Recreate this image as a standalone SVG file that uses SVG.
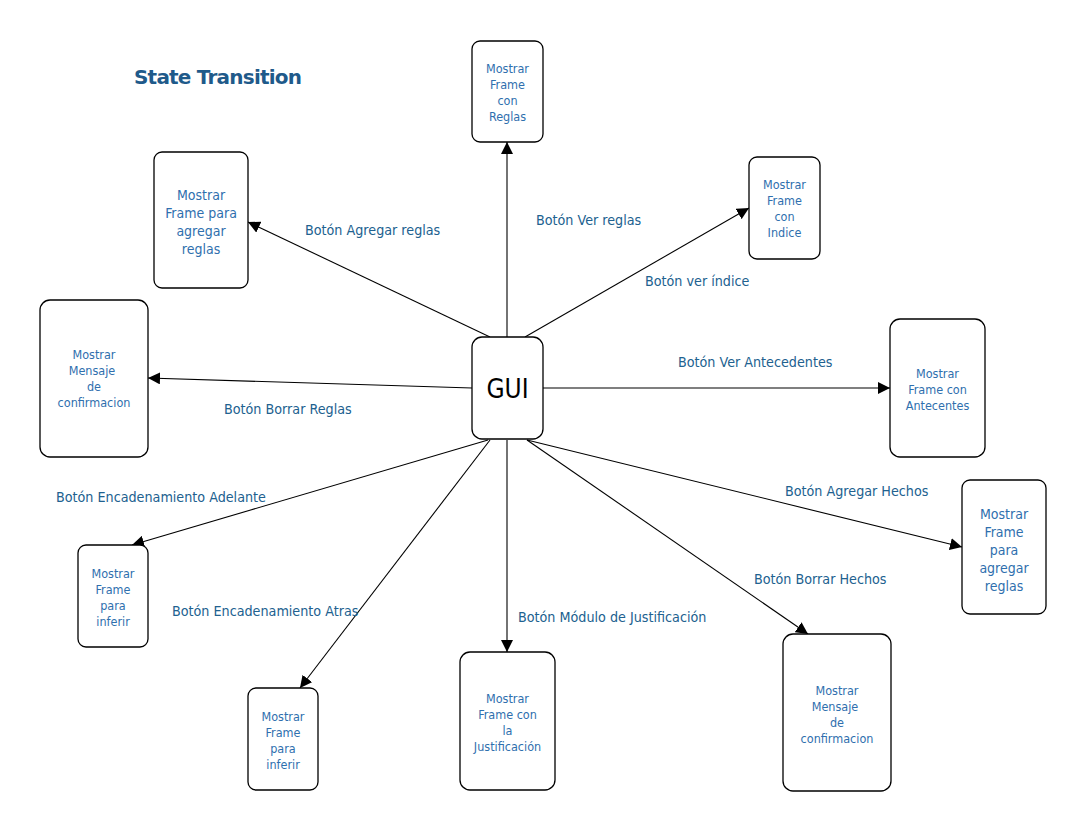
<svg xmlns="http://www.w3.org/2000/svg" width="1084" height="829" viewBox="0 0 1084 829">
<defs>
<marker id="arr" viewBox="0 0 12 12" refX="12" refY="6" markerWidth="12" markerHeight="12" markerUnits="userSpaceOnUse" orient="auto">
<path d="M0,0 L12,6 L0,12 Z" fill="#000"/>
</marker>
<style>
.box{fill:#fff;stroke:#000;stroke-width:1.3}
.nt{font-family:"DejaVu Sans Condensed","DejaVu Sans",sans-serif;font-size:12.5px;fill:#2f6fae;text-anchor:middle}
.nt14{font-size:14px}
.lb{font-family:"DejaVu Sans Condensed","DejaVu Sans",sans-serif;font-size:14.2px;fill:#21618f}
.ln{stroke:#000;stroke-width:1.1;fill:none;marker-end:url(#arr)}
</style>
</defs>
<rect width="1084" height="829" fill="#fff"/>
<text x="134" y="84" font-family="'DejaVu Sans',sans-serif" font-weight="bold" font-size="20" fill="#1f5a8a" textLength="168">State Transition</text>

<g id="connectors">
<line class="ln" x1="507" y1="337" x2="507" y2="142"/>
<line class="ln" x1="490" y1="337" x2="248" y2="222"/>
<line class="ln" x1="525" y1="337" x2="749" y2="208"/>
<line class="ln" x1="472" y1="388" x2="148" y2="378"/>
<line class="ln" x1="543" y1="388" x2="890" y2="388"/>
<line class="ln" x1="527" y1="440" x2="962" y2="547"/>
<line class="ln" x1="488" y1="440" x2="132" y2="545"/>
<line class="ln" x1="490" y1="440" x2="300" y2="688"/>
<line class="ln" x1="507" y1="440" x2="507" y2="652"/>
<line class="ln" x1="527" y1="440" x2="808" y2="634"/>
<text class="lb" x="305" y="235">Botón Agregar reglas</text>
<text class="lb" x="536" y="225">Botón Ver reglas</text>
<text class="lb" x="645" y="286">Botón ver índice</text>
<text class="lb" x="678" y="367">Botón Ver Antecedentes</text>
<text class="lb" x="224" y="414">Botón Borrar Reglas</text>
<text class="lb" x="56" y="502">Botón Encadenamiento Adelante</text>
<text class="lb" x="785" y="496">Botón Agregar Hechos</text>
<text class="lb" x="754" y="584">Botón Borrar Hechos</text>
<text class="lb" x="172" y="616">Botón Encadenamiento Atras</text>
<text class="lb" x="518" y="622">Botón Módulo de Justificación</text>
</g>

<g id="gui">
<rect class="box" x="472" y="337" width="71" height="102" rx="10"/>
<text x="507.5" y="398" font-family="'DejaVu Sans Condensed','DejaVu Sans',sans-serif" font-size="26" text-anchor="middle" fill="#000">GUI</text>
</g>

<g id="n-reglas">
<rect class="box" x="472" y="41" width="71" height="101" rx="8"/>
<text class="nt" x="507.5" y="73">Mostrar</text>
<text class="nt" x="507.5" y="89">Frame</text>
<text class="nt" x="507.5" y="105">con</text>
<text class="nt" x="507.5" y="121">Reglas</text>
</g>

<g id="n-agregar-reglas-1">
<rect class="box" x="154" y="152" width="94" height="136" rx="8"/>
<text class="nt nt14" x="201" y="200">Mostrar</text>
<text class="nt nt14" x="201" y="218">Frame para</text>
<text class="nt nt14" x="201" y="236">agregar</text>
<text class="nt nt14" x="201" y="254">reglas</text>
</g>

<g id="n-indice">
<rect class="box" x="749" y="157" width="71" height="102" rx="8"/>
<text class="nt" x="784.5" y="189">Mostrar</text>
<text class="nt" x="784.5" y="205">Frame</text>
<text class="nt" x="784.5" y="221">con</text>
<text class="nt" x="784.5" y="237">Indice</text>
</g>

<g id="n-mensaje-1">
<rect class="box" x="40" y="300" width="108" height="157" rx="10"/>
<text class="nt" x="94" y="359">Mostrar</text>
<text class="nt" x="92" y="375">Mensaje</text>
<text class="nt" x="94" y="391">de</text>
<text class="nt" x="94" y="407">confirmacion</text>
</g>

<g id="n-antecedentes">
<rect class="box" x="890" y="319" width="95" height="138" rx="10"/>
<text class="nt" x="937.5" y="378">Mostrar</text>
<text class="nt" x="937.5" y="394">Frame con</text>
<text class="nt" x="937.5" y="410">Antecentes</text>
</g>

<g id="n-agregar-reglas-2">
<rect class="box" x="962" y="480" width="84" height="134" rx="8"/>
<text class="nt nt14" x="1004" y="519">Mostrar</text>
<text class="nt nt14" x="1004" y="537">Frame</text>
<text class="nt nt14" x="1004" y="555">para</text>
<text class="nt nt14" x="1004" y="573">agregar</text>
<text class="nt nt14" x="1004" y="591">reglas</text>
</g>

<g id="n-inferir-1">
<rect class="box" x="78" y="545" width="70" height="102" rx="8"/>
<text class="nt" x="113" y="578">Mostrar</text>
<text class="nt" x="113" y="594">Frame</text>
<text class="nt" x="113" y="610">para</text>
<text class="nt" x="113" y="626">inferir</text>
</g>

<g id="n-inferir-2">
<rect class="box" x="248" y="688" width="70" height="102" rx="8"/>
<text class="nt" x="283" y="721">Mostrar</text>
<text class="nt" x="283" y="737">Frame</text>
<text class="nt" x="283" y="753">para</text>
<text class="nt" x="283" y="769">inferir</text>
</g>

<g id="n-justificacion">
<rect class="box" x="460" y="652" width="95" height="138" rx="10"/>
<text class="nt" x="507.5" y="703">Mostrar</text>
<text class="nt" x="507.5" y="719">Frame con</text>
<text class="nt" x="507.5" y="735">la</text>
<text class="nt" x="507.5" y="751">Justificación</text>
</g>

<g id="n-mensaje-2">
<rect class="box" x="783" y="634" width="108" height="157" rx="10"/>
<text class="nt" x="837" y="695">Mostrar</text>
<text class="nt" x="835" y="711">Mensaje</text>
<text class="nt" x="837" y="727">de</text>
<text class="nt" x="837" y="743">confirmacion</text>
</g>
</svg>
